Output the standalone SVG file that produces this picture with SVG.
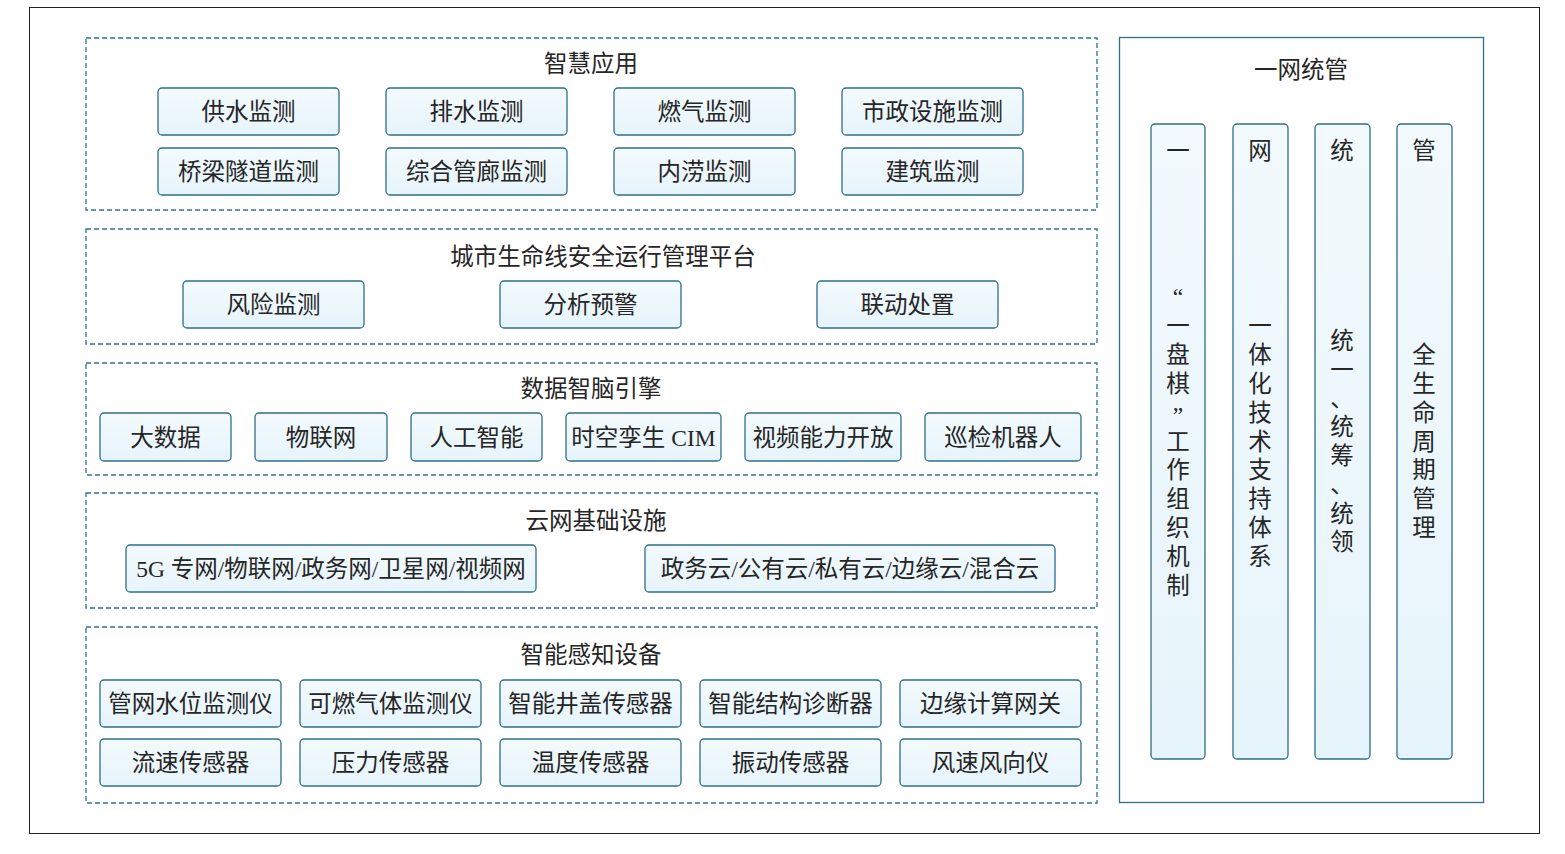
<svg xmlns="http://www.w3.org/2000/svg" width="1565" height="854" viewBox="0 0 1565 854">
<style>
.sec{fill:none;stroke:#2f7396;stroke-width:1.3;stroke-dasharray:5 3}
.box{fill:url(#g);stroke:#2f6f88;stroke-width:1.3}
.col{fill:url(#g);stroke:#2f6f88;stroke-width:1.3}
text{font-family:"Liberation Serif","Noto Sans CJK SC",serif;font-size:23.5px;fill:#262626;text-anchor:middle}
</style>
<defs>
<linearGradient id="g" x1="0" y1="0" x2="0" y2="1"><stop offset="0" stop-color="#f3fafd"/><stop offset="1" stop-color="#e6f4fb"/></linearGradient>
</defs>
<rect x="0" y="0" width="1565" height="854" fill="#fff"/>
<rect x="29.5" y="7.5" width="1510" height="826" fill="none" stroke="#222" stroke-width="1"/>

<g id="sec-app">
<rect class="sec" x="86" y="38" width="1011" height="172"/>
<text x="591" y="72">智慧应用</text>
</g>
<g id="n-gongshui"><rect class="box" x="158" y="88" width="181" height="47" rx="4"/><text x="248.5" y="120">供水监测</text></g>
<g id="n-paishui"><rect class="box" x="386" y="88" width="181" height="47" rx="4"/><text x="476.5" y="120">排水监测</text></g>
<g id="n-ranqi"><rect class="box" x="614" y="88" width="181" height="47" rx="4"/><text x="704.5" y="120">燃气监测</text></g>
<g id="n-shizheng"><rect class="box" x="842" y="88" width="181" height="47" rx="4"/><text x="932.5" y="120">市政设施监测</text></g>
<g id="n-qiaoliang"><rect class="box" x="158" y="148" width="181" height="47" rx="4"/><text x="248.5" y="180">桥梁隧道监测</text></g>
<g id="n-guanlang"><rect class="box" x="386" y="148" width="181" height="47" rx="4"/><text x="476.5" y="180">综合管廊监测</text></g>
<g id="n-neilao"><rect class="box" x="614" y="148" width="181" height="47" rx="4"/><text x="704.5" y="180">内涝监测</text></g>
<g id="n-jianzhu"><rect class="box" x="842" y="148" width="181" height="47" rx="4"/><text x="932.5" y="180">建筑监测</text></g>

<g id="sec-platform">
<rect class="sec" x="86" y="229" width="1011" height="115"/>
<text x="603" y="265">城市生命线安全运行管理平台</text>
</g>
<g id="n-fengxian"><rect class="box" x="183" y="281" width="181" height="47" rx="4"/><text x="273.5" y="313">风险监测</text></g>
<g id="n-fenxi"><rect class="box" x="500" y="281" width="181" height="47" rx="4"/><text x="590.5" y="313">分析预警</text></g>
<g id="n-liandong"><rect class="box" x="817" y="281" width="181" height="47" rx="4"/><text x="907.5" y="313">联动处置</text></g>

<g id="sec-brain">
<rect class="sec" x="86" y="363" width="1011" height="112"/>
<text x="591" y="397">数据智脑引擎</text>
</g>
<g id="n-dashuju"><rect class="box" x="100" y="413" width="131" height="48" rx="4"/><text x="165.5" y="445.5">大数据</text></g>
<g id="n-wulianwang"><rect class="box" x="255" y="413" width="132" height="48" rx="4"/><text x="321" y="445.5">物联网</text></g>
<g id="n-ai"><rect class="box" x="411" y="413" width="131" height="48" rx="4"/><text x="476.5" y="445.5">人工智能</text></g>
<g id="n-cim"><rect class="box" x="566" y="413" width="155" height="48" rx="4"/><text x="643.5" y="445.5">时空孪生 CIM</text></g>
<g id="n-video"><rect class="box" x="745" y="413" width="156" height="48" rx="4"/><text x="823" y="445.5">视频能力开放</text></g>
<g id="n-robot"><rect class="box" x="925" y="413" width="156" height="48" rx="4"/><text x="1003" y="445.5">巡检机器人</text></g>

<g id="sec-infra">
<rect class="sec" x="86" y="493" width="1011" height="115"/>
<text x="596" y="529">云网基础设施</text>
</g>
<g id="n-net"><rect class="box" x="126" y="545" width="410" height="47" rx="4"/><text x="331" y="577">5G 专网/物联网/政务网/卫星网/视频网</text></g>
<g id="n-cloud"><rect class="box" x="645" y="545" width="410" height="47" rx="4"/><text x="850" y="577">政务云/公有云/私有云/边缘云/混合云</text></g>

<g id="sec-sense">
<rect class="sec" x="86" y="627" width="1011" height="176"/>
<text x="591" y="663">智能感知设备</text>
</g>
<g id="n-s1"><rect class="box" x="100" y="680" width="181" height="47" rx="4"/><text x="190.5" y="712">管网水位监测仪</text></g>
<g id="n-s2"><rect class="box" x="300" y="680" width="181" height="47" rx="4"/><text x="390.5" y="712">可燃气体监测仪</text></g>
<g id="n-s3"><rect class="box" x="500" y="680" width="181" height="47" rx="4"/><text x="590.5" y="712">智能井盖传感器</text></g>
<g id="n-s4"><rect class="box" x="700" y="680" width="181" height="47" rx="4"/><text x="790.5" y="712">智能结构诊断器</text></g>
<g id="n-s5"><rect class="box" x="900" y="680" width="181" height="47" rx="4"/><text x="990.5" y="712">边缘计算网关</text></g>
<g id="n-s6"><rect class="box" x="100" y="739" width="181" height="47" rx="4"/><text x="190.5" y="771">流速传感器</text></g>
<g id="n-s7"><rect class="box" x="300" y="739" width="181" height="47" rx="4"/><text x="390.5" y="771">压力传感器</text></g>
<g id="n-s8"><rect class="box" x="500" y="739" width="181" height="47" rx="4"/><text x="590.5" y="771">温度传感器</text></g>
<g id="n-s9"><rect class="box" x="700" y="739" width="181" height="47" rx="4"/><text x="790.5" y="771">振动传感器</text></g>
<g id="n-s10"><rect class="box" x="900" y="739" width="181" height="47" rx="4"/><text x="990.5" y="771">风速风向仪</text></g>

<g id="panel">
<rect x="1119.5" y="37.5" width="364" height="765" fill="none" stroke="#2f6f88" stroke-width="1.3"/>
<text x="1301" y="78">一网统管</text>
</g>
<g id="c1"><rect class="col" x="1151" y="124" width="54" height="635" rx="4"/>
<text x="1178" y="159">一</text>
<text x="1178" y="305">“</text><text x="1178" y="334">一</text><text x="1178" y="363">盘</text><text x="1178" y="392">棋</text><text x="1178" y="423">”</text><text x="1178" y="450">工</text><text x="1178" y="478">作</text><text x="1178" y="507">组</text><text x="1178" y="536">织</text><text x="1178" y="565">机</text><text x="1178" y="594">制</text>
</g>
<g id="c2"><rect class="col" x="1233" y="124" width="55" height="635" rx="4"/>
<text x="1260" y="159">网</text>
<text x="1260" y="334">一</text><text x="1260" y="363">体</text><text x="1260" y="392">化</text><text x="1260" y="421">技</text><text x="1260" y="450">术</text><text x="1260" y="478">支</text><text x="1260" y="507">持</text><text x="1260" y="536">体</text><text x="1260" y="565">系</text>
</g>
<g id="c3"><rect class="col" x="1315" y="124" width="55" height="635" rx="4"/>
<text x="1342" y="159">统</text>
<text x="1342" y="349">统</text><text x="1342" y="378">一</text><text x="1342" y="407">、</text><text x="1342" y="435">统</text><text x="1342" y="464">筹</text><text x="1342" y="493">、</text><text x="1342" y="522">统</text><text x="1342" y="550">领</text>
</g>
<g id="c4"><rect class="col" x="1397" y="124" width="55" height="635" rx="4"/>
<text x="1424" y="159">管</text>
<text x="1424" y="363">全</text><text x="1424" y="392">生</text><text x="1424" y="421">命</text><text x="1424" y="450">周</text><text x="1424" y="478">期</text><text x="1424" y="507">管</text><text x="1424" y="536">理</text>
</g>
<g id="connectors"></g>
</svg>
